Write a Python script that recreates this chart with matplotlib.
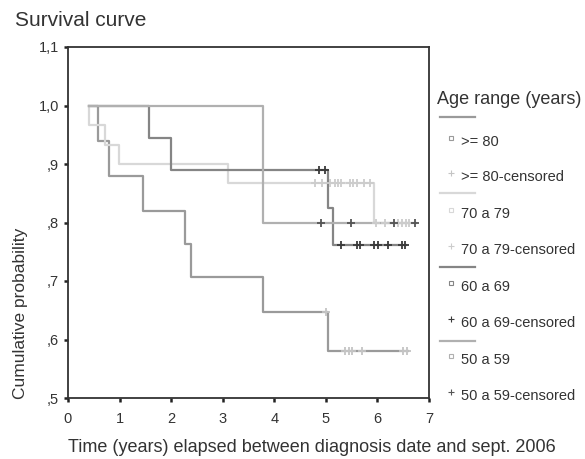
import matplotlib
matplotlib.use("Agg")
import matplotlib.pyplot as plt
from matplotlib.lines import Line2D

plt.rcParams['font.family'] = ['Liberation Sans', 'DejaVu Sans']

# step curves (time, survival) per age group
t_80 = [0.41, 0.59, 0.79, 1.46, 2.27, 2.38, 3.79, 5.04, 6.60]
s_80 = [1.0, 0.940, 0.879, 0.820, 0.763, 0.706, 0.647, 0.580, 0.580]
cens_t_80 = [5.00, 5.37, 5.45, 5.51, 5.70, 6.50, 6.58]
cens_s_80 = [0.647, 0.580, 0.580, 0.580, 0.580, 0.580, 0.580]

t_70 = [0.41, 0.41, 0.72, 0.99, 3.11, 5.93, 6.62]
s_70 = [1.0, 0.967, 0.933, 0.900, 0.867, 0.800, 0.800]
cens_t_70 = [4.79, 4.92, 5.08, 5.17, 5.23, 5.30, 5.47, 5.53, 5.60, 5.74, 5.85,
             5.97, 6.14, 6.40, 6.47, 6.56, 6.62]
cens_s_70 = [0.867] * 11 + [0.800] * 6

t_60 = [0.41, 1.58, 2.00, 5.05, 5.14, 6.55]
s_60 = [1.0, 0.944, 0.889, 0.825, 0.762, 0.762]
cens_t_60 = [4.86, 4.99, 5.30, 5.60, 5.66, 5.93, 6.01, 6.21, 6.47, 6.53]
cens_s_60 = [0.889, 0.889] + [0.762] * 8

t_50 = [0.41, 3.79, 6.75]
s_50 = [1.0, 0.800, 0.800]
cens_t_50 = [4.90, 5.48, 6.32, 6.72]
cens_s_50 = [0.800] * 4

x_ticks = [0, 1, 2, 3, 4, 5, 6, 7]
y_ticks = [0.5, 0.6, 0.7, 0.8, 0.9, 1.0, 1.1]
y_tick_labels = [",5", ",6", ",7", ",8", ",9", "1,0", "1,1"]

groups = [">= 80", "70 a 79", "60 a 69", "50 a 59"]
line_colors = ["#9a9a9a", "#d8d8d8", "#858585", "#b0b0b0"]
cens_colors = ["#c4c4c4", "#cccccc", "#3a3a3a", "#555555"]

text_c = "#333333"

fig = plt.figure(figsize=(5.85, 4.59), dpi=100)
ax = fig.add_axes([68 / 585, 61 / 459, 361 / 585, 351 / 459])

curves = [(t_80, s_80, cens_t_80, cens_s_80),
          (t_70, s_70, cens_t_70, cens_s_70),
          (t_60, s_60, cens_t_60, cens_s_60),
          (t_50, s_50, cens_t_50, cens_s_50)]

for (t, s, ct, cs), lc, cc in zip(curves, line_colors, cens_colors):
    ax.step(t, s, where='post', color=lc, lw=1.6)
    ax.plot(ct, cs, ls='none', marker='+', ms=6, mew=1.3, color=cc, zorder=3)

ax.set_xlim(0, 7)
ax.set_ylim(0.5, 1.1)
ax.set_xticks(x_ticks)
ax.set_yticks(y_ticks)
ax.set_yticklabels(y_tick_labels)
ax.tick_params(direction='out', length=3, width=1.8, colors="#222222",
               labelsize=10.5, labelcolor=text_c)
ax.tick_params(axis='x', pad=7)
for sp in ax.spines.values():
    sp.set_color("#333333")
    sp.set_linewidth(1.3)

# axis titles placed as in the original export (not centred on the axes)
fig.text(68 / 585, 1 - 448 / 459,
         "Time (years) elapsed between diagnosis date and sept. 2006",
         fontsize=13, color=text_c, ha='left', va='center')
fig.text(21 / 585, 1 - 399 / 459, "Cumulative probability", fontsize=12.5,
         color=text_c, rotation=90, ha='center', va='bottom')

fig.text(15 / 585, 1 - 20 / 459, "Survival curve", fontsize=15, color=text_c,
         ha='left', va='center')

# legend (SPSS style, drawn by hand)
fig.text(437 / 585, 1 - 100 / 459, "Age range (years)", fontsize=13,
         color=text_c, ha='left', va='center')

line_y = [117, 193, 267, 341]
label_y = [[142, 177], [214, 250], [287, 323], [360, 396]]
for g, lc, cc, ly, (ya, yb) in zip(groups, line_colors, cens_colors, line_y, label_y):
    fig.add_artist(Line2D([440 / 585, 475 / 585], [1 - ly / 459] * 2,
                          color=lc, lw=1.6, transform=fig.transFigure))
    fig.add_artist(Line2D([451 / 585], [1 - (ya - 4) / 459], ls='none',
                          marker='s', ms=3.5, mfc='none', mec=lc, mew=0.8,
                          transform=fig.transFigure))
    fig.add_artist(Line2D([451 / 585], [1 - (yb - 4) / 459], ls='none',
                          marker='+', ms=4.5, mew=0.8, color=cc,
                          transform=fig.transFigure))
    fig.text(461 / 585, 1 - ya / 459, g, fontsize=10.5, color=text_c,
             ha='left', va='center')
    fig.text(461 / 585, 1 - yb / 459, g + "-censored", fontsize=10.5,
             color=text_c, ha='left', va='center')

fig.savefig("out.png", dpi=100)
